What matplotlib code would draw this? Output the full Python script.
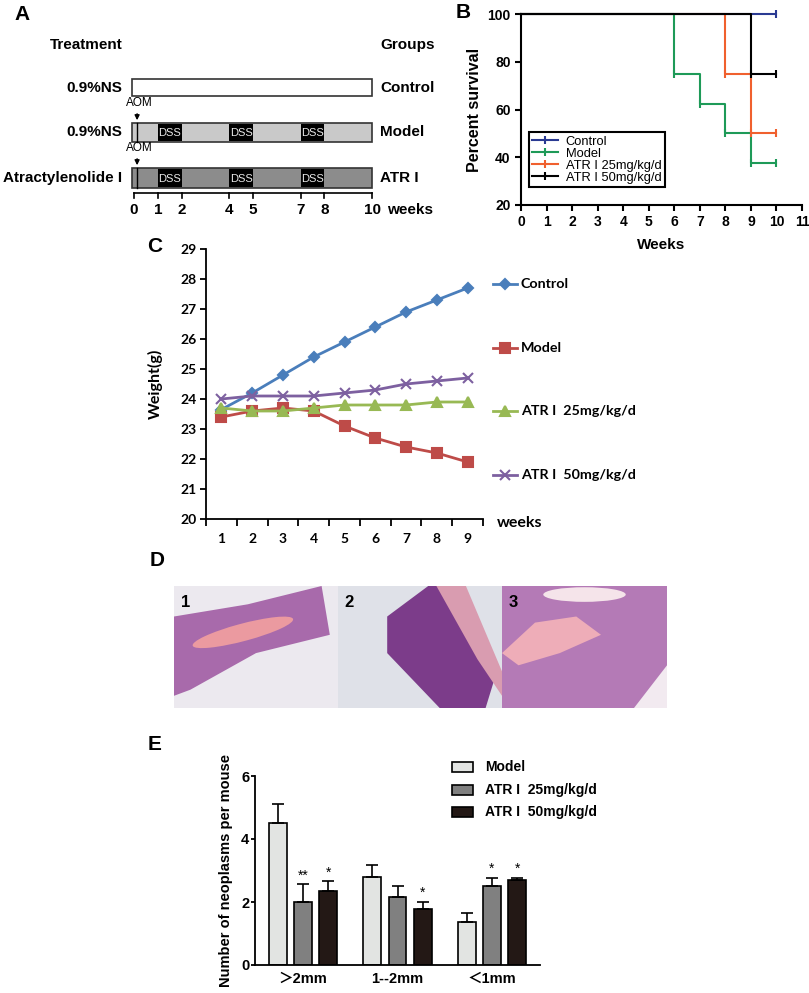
import numpy as np
import matplotlib
matplotlib.use('Agg')
import matplotlib.pyplot as plt
from matplotlib.patches import Rectangle, Ellipse, Polygon
from matplotlib.lines import Line2D

plt.rcParams['font.family'] = ['Liberation Sans', 'Noto Sans CJK SC', 'DejaVu Sans']

# ---- data ----
# A: experimental design
timeline_ticks = [0, 1, 2, 4, 5, 7, 8, 10]
dss_periods = [(1, 2), (4, 5), (7, 8)]
design_groups = ['Control', 'Model', 'ATR I']
design_treatments = ['0.9%NS', '0.9%NS', 'Atractylenolide I']

# B: survival (Kaplan-Meier steps)
surv_labels = ['Control', 'Model', 'ATR I 25mg/kg/d', 'ATR I 50mg/kg/d']
ctrl_t, ctrl_s = [0, 10], [100, 100]
model_t, model_s = [0, 6, 7, 8, 9, 10], [100, 75, 62.5, 50, 37.5, 37.5]
atr25_t, atr25_s = [0, 8, 9, 10], [100, 75, 50, 50]
atr50_t, atr50_s = [0, 9, 10], [100, 75, 75]

# C: body weight
weeks_c = [1, 2, 3, 4, 5, 6, 7, 8, 9]
w_control = [23.65, 24.2, 24.8, 25.4, 25.9, 26.4, 26.9, 27.3, 27.7]
w_model = [23.4, 23.6, 23.7, 23.6, 23.1, 22.7, 22.4, 22.2, 21.9]
w_atr25 = [23.7, 23.6, 23.6, 23.7, 23.8, 23.8, 23.8, 23.9, 23.9]
w_atr50 = [24.0, 24.1, 24.1, 24.1, 24.2, 24.3, 24.5, 24.6, 24.7]
weight_labels = ['Control', 'Model', 'ATR I  25mg/kg/d', 'ATR I  50mg/kg/d']

# E: neoplasm counts
size_cats = ['＞2mm', '1--2mm', '＜1mm']
neo_model = [4.52, 2.78, 1.36]
neo_model_err = [0.59, 0.38, 0.30]
neo_atr25 = [2.01, 2.15, 2.52]
neo_atr25_err = [0.56, 0.36, 0.25]
neo_atr50 = [2.35, 1.77, 2.69]
neo_atr50_err = [0.31, 0.24, 0.08]
neo_stars = [['', '**', '*'], ['', '', '*'], ['', '*', '*']]
neo_labels = ['Model', 'ATR I  25mg/kg/d', 'ATR I  50mg/kg/d']

W, H = 809, 993
fig = plt.figure(figsize=(W / 100, H / 100), dpi=100)


def px_axes(l, t, r, b):
    return fig.add_axes([l / W, 1 - b / H, (r - l) / W, (b - t) / H])


# ---------------- Panel A ----------------
scale, x0 = 23.8, 134
axA = px_axes(0, 20, 450, 230)
axA.set_xlim(-x0 / scale, (450 - x0) / scale)
axA.set_ylim(230, 20)
axA.axis('off')


def wx(px):
    return (px - x0) / scale


rows = [(79, 96), (123, 142), (168, 188)]
fills = ['white', '#c9c9c9', '#8c8c8c']
for i, ((top, bot), fc) in enumerate(zip(rows, fills)):
    axA.add_patch(Rectangle((-0.1, top), 10.1, bot - top, fc=fc, ec='#333333', lw=1.2))
    if i > 0:
        for s, e in dss_periods:
            axA.add_patch(Rectangle((s, top + 1), e - s, bot - top - 2, fc='black', ec='none'))
            axA.text((s + e) / 2, (top + bot) / 2 + 1, 'DSS', color='#e8e8e8', fontsize=8,
                     ha='center', va='center')
    axA.text(wx(122), (top + bot) / 2, design_treatments[i], fontsize=11, fontweight='bold',
             ha='right', va='center')
    axA.text(wx(380), (top + bot) / 2, design_groups[i], fontsize=11, fontweight='bold',
             ha='left', va='center')

for top, bot in rows[1:]:
    axA.text(wx(139), top - 20, 'AOM', fontsize=8.5, ha='center', va='center')
    axA.annotate('', xy=(0.13, top), xytext=(0.13, top - 12),
                 arrowprops=dict(arrowstyle='-|>', lw=1, color='k', mutation_scale=7))
    axA.plot([0.13, 0.13], [top, bot], color='k', lw=1)

axA.text(wx(86), 45, 'Treatment', fontsize=11, fontweight='bold', ha='center', va='center')
axA.text(wx(380), 45, 'Groups', fontsize=11, fontweight='bold', ha='left', va='center')
axA.plot([0, 10], [193, 193], color='k', lw=1.2)
for t in timeline_ticks:
    axA.plot([t, t], [193, 198], color='k', lw=1.2)
    axA.text(t, 210, str(t), fontsize=11, fontweight='bold', ha='center', va='center')
axA.text(wx(387), 210, 'weeks', fontsize=11, fontweight='bold', ha='left', va='center')

# ---------------- Panel B ----------------
axB = px_axes(521, 14, 802, 205)
axB.set_xlim(0, 11)
axB.set_ylim(20, 100)
surv = [(ctrl_t, ctrl_s, '#2a3a92'), (model_t, model_s, '#1e9a58'),
        (atr25_t, atr25_s, '#f0602e'), (atr50_t, atr50_s, 'black')]
handles = []
for (t, s, c), lab in zip(surv, surv_labels):
    axB.step(t, s, where='post', color=c, lw=1.5, clip_on=False)
    axB.plot(t[1:], s[1:], ls='none', marker='|', ms=6, mew=1.5, color=c, clip_on=False)
    handles.append(Line2D([], [], color=c, lw=1.5, marker='|', ms=6, mew=1.5))
for sp in ['top', 'right']:
    axB.spines[sp].set_visible(False)
for sp in ['left', 'bottom']:
    axB.spines[sp].set_linewidth(1.5)
axB.set_xticks(range(0, 12))
axB.set_yticks([20, 40, 60, 80, 100])
axB.tick_params(direction='out', length=4, width=1.5, labelsize=10)
for lab in axB.get_xticklabels() + axB.get_yticklabels():
    lab.set_fontweight('bold')
axB.set_xlabel('Weeks', fontsize=11, fontweight='bold', labelpad=6)
axB.set_ylabel('Percent survival', fontsize=11.5, fontweight='bold', labelpad=4)
leg = axB.legend(handles, surv_labels, loc='lower left', bbox_to_anchor=(0.028, 0.094),
                 fontsize=9.3, frameon=True, fancybox=False, edgecolor='black', framealpha=1,
                 borderpad=0.25, labelspacing=0.0, handlelength=2.0, handletextpad=0.6,
                 borderaxespad=0, numpoints=1)
leg.get_frame().set_linewidth(1.5)

# ---------------- Panel C ----------------
cfont = ['Lato', 'DejaVu Sans']
axC = px_axes(206, 249, 483, 519)
axC.set_xlim(0.5, 9.5)
axC.set_ylim(20, 29)
series_c = [(w_control, '#4a7ebb', 'D', 5.5), (w_model, '#be4b48', 's', 7.5),
            (w_atr25, '#98b954', '^', 7.5), (w_atr50, '#7d60a0', 'x', 7)]
for vals, c, m, ms in series_c:
    axC.plot(weeks_c, vals, color=c, marker=m, ms=ms, lw=2, mew=1.5)
for sp in ['top', 'right']:
    axC.spines[sp].set_visible(False)
for sp in ['left', 'bottom']:
    axC.spines[sp].set_linewidth(1.3)
axC.set_yticks(range(20, 30))
axC.set_xticks(np.arange(0.5, 10, 1))
axC.set_xticklabels([])
axC.set_xticks(weeks_c, minor=True)
axC.set_xticklabels([str(w) for w in weeks_c], minor=True)
axC.tick_params(axis='x', which='major', direction='out', length=5, width=1.3)
axC.tick_params(axis='x', which='minor', length=0, pad=10)
axC.tick_params(axis='y', direction='out', length=4, width=1.3, pad=3)
for lab in axC.get_xticklabels(minor=True) + axC.get_yticklabels():
    lab.set_fontweight('bold')
    lab.set_family(cfont)
    lab.set_fontsize(10)
axC.set_ylabel('Weight(g)', fontsize=11.5, fontweight='bold', family=cfont)
axC.yaxis.set_label_coords((163 - 206) / 277, 0.5)

# ---------------- Panel D (micrograph placeholders) ----------------
img_boxes = [(174, 586, 338, 708), (338, 586, 502, 708), (502, 586, 667, 708)]
img_styles = [
    ('#ece9ef', [('poly', [(0, 0.1), (0, 0.75), (0.45, 0.85), (0.9, 1.0), (0.95, 0.6), (0.5, 0.45), (0.1, 0.15)], '#a86aab'),
                 ('ell', (0.42, 0.62), 0.65, 0.14, 20, '#eb9aa0')]),
    ('#dfe1e8', [('poly', [(0.3, 0.75), (0.55, 1.0), (0.75, 1.0), (0.98, 0.35), (0.9, 0.0), (0.62, 0.0), (0.3, 0.45)], '#7c3c8a'),
                 ('poly', [(0.6, 1.0), (0.78, 1.0), (1.0, 0.3), (1.0, 0.1), (0.85, 0.4)], '#d99cb0')]),
    ('#f2eaf0', [('poly', [(0, 0), (0, 1), (1, 1), (1, 0.35), (0.8, 0.0)], '#b47ab6'),
                 ('poly', [(0, 0.45), (0.2, 0.7), (0.45, 0.75), (0.6, 0.6), (0.35, 0.45), (0.1, 0.35)], '#eeadb8'),
                 ('ell', (0.5, 0.93), 0.5, 0.12, 0, '#f5e4ea')]),
]
for k, ((l, t, r, b), (bg, shapes)) in enumerate(zip(img_boxes, img_styles)):
    axI = px_axes(l, t, r, b)
    axI.set_xlim(0, 1)
    axI.set_ylim(0, 1)
    axI.axis('off')
    axI.add_patch(Rectangle((0, 0), 1, 1, fc=bg, ec='none'))
    for sh in shapes:
        if sh[0] == 'poly':
            axI.add_patch(Polygon(sh[1], closed=True, fc=sh[2], ec='none'))
        else:
            axI.add_patch(Ellipse(sh[1], sh[2], sh[3], angle=sh[4], fc=sh[5], ec='none'))
    axI.text(0.04, 0.93, str(k + 1), fontsize=12, fontweight='bold', ha='left', va='top')

# ---------------- Panel E ----------------
axE = px_axes(255, 776, 540, 965)
axE.set_xlim(-0.508, 2.508)
axE.set_ylim(0, 6)
xpos = np.arange(len(size_cats))
bw, off = 0.19, 0.265
bar_sets = [(neo_model, neo_model_err, '#e2e4e2'), (neo_atr25, neo_atr25_err, '#808080'),
            (neo_atr50, neo_atr50_err, '#231815')]
for j, (vals, errs, fc) in enumerate(bar_sets):
    xs = xpos + (j - 1) * off
    axE.bar(xs, vals, width=bw, color=fc, edgecolor='black', lw=1.2, zorder=2)
    axE.errorbar(xs, vals, yerr=[np.zeros(len(vals)), errs], fmt='none', ecolor='black',
                 elinewidth=1.2, capsize=4, capthick=1.2, zorder=3)
    for i in range(len(vals)):
        star = neo_stars[i][j]
        if star:
            axE.text(xs[i], vals[i] + errs[i] + 0.05, star, fontsize=10, ha='center', va='bottom')
for sp in ['top', 'right']:
    axE.spines[sp].set_visible(False)
for sp in ['left', 'bottom']:
    axE.spines[sp].set_linewidth(1.3)
axE.set_yticks([0, 2, 4, 6])
axE.set_xticks(xpos)
axE.set_xticklabels(size_cats)
axE.tick_params(axis='x', length=0, pad=5, labelsize=10.5)
axE.tick_params(axis='y', direction='out', length=3, width=1.3, pad=1, labelsize=10.5)
for lab in axE.get_xticklabels() + axE.get_yticklabels():
    lab.set_fontweight('bold')
axE.set_ylabel('Number of neoplasms per mouse', fontsize=10.5, fontweight='bold')
axE.yaxis.set_label_coords((233 - 255) / 285, 0.5)

# ---------------- overlay: panel letters and manual legends ----------------
ov = fig.add_axes([0, 0, 1, 1], facecolor='none')
ov.set_xlim(0, W)
ov.set_ylim(H, 0)
ov.axis('off')
for letter, x, y in [('A', 22, 15), ('B', 463, 13), ('C', 155, 247), ('D', 157, 560), ('E', 155, 745)]:
    ov.text(x, y, letter, fontsize=15, fontweight='bold', ha='center', va='center')

for (vals, c, m, ms), lab, y in zip(series_c, weight_labels, [284, 348, 411, 475]):
    ov.plot([493, 517], [y, y], color=c, lw=2)
    ov.plot([505], [y], color=c, marker=m, ms=ms, mew=1.5)
    ov.text(521, y, lab, fontsize=10.3, fontweight='bold', family=cfont, ha='left', va='center')
ov.text(497, 523, 'weeks', fontsize=11.5, fontweight='bold', family=cfont, ha='left', va='center')

for (vals, errs, fc), lab, y in zip(bar_sets, neo_labels, [767, 790, 812]):
    ov.add_patch(Rectangle((452, y - 5), 21, 10, fc=fc, ec='black', lw=1.2))
    ov.text(485, y, lab, fontsize=10, fontweight='bold', ha='left', va='center')

fig.savefig('out.png', dpi=100)
